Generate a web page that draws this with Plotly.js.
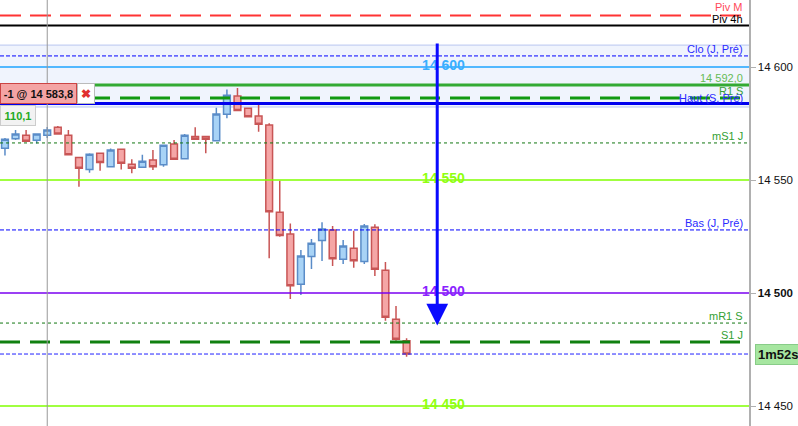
<!DOCTYPE html>
<html>
<head>
<meta charset="utf-8">
<script src="https://cdn.plot.ly/plotly-3.0.1.min.js"></script>
<style>
html,body{margin:0;padding:0;background:#fff;}
#chart{width:798px;height:426px;}
</style>
</head>
<body>
<div id="chart"></div>
<script>
// ---- data ----
const candleIndex = [0,1,2,3,4,5,6,7,8,9,10,11,12,13,14,15,16,17,18,19,20,21,22,23,24,25,26,27,28,29,30,31,32,33,34,35,36,37,38];
const openPrices  = [14564.0,14568.3,14569.8,14567.6,14569.8,14573.3,14569.8,14560.0,14554.7,14561.8,14555.9,14563.6,14557.0,14555.6,14558.9,14556.8,14565.9,14559.4,14569.3,14569.3,14567.4,14579.1,14587.2,14581.7,14578.3,14574.3,14535.7,14526.1,14503.9,14516.1,14523.2,14527.9,14514.9,14519.8,14513.9,14529.1,14510.1,14488.4,14478.9];
const highPrices  = [14568.6,14572.1,14572.1,14570.4,14573.5,14573.9,14572.1,14560.0,14561.8,14561.8,14563.9,14563.9,14559.2,14561.2,14563.3,14565.4,14567.7,14570.4,14573.3,14569.5,14582.0,14590.1,14590.7,14581.7,14583.2,14575.1,14549.7,14530.8,14519.0,14523.9,14531.3,14529.7,14523.5,14527.6,14530.5,14530.4,14513.7,14494.2,14480.0];
const lowPrices   = [14560.8,14567.7,14567.1,14566.2,14568.6,14570.4,14560.8,14547.0,14553.2,14554.1,14555.9,14554.7,14553.0,14555.6,14554.4,14555.9,14559.2,14559.4,14568.0,14561.8,14567.4,14577.3,14580.7,14578.0,14571.4,14515.4,14524.9,14497.3,14499.1,14510.6,14514.2,14512.0,14512.8,14511.2,14512.8,14507.5,14487.7,14478.9,14471.8];
const closePrices = [14568.0,14570.4,14567.1,14570.4,14572.1,14570.4,14561.2,14555.2,14561.4,14557.8,14563.3,14557.4,14555.2,14558.3,14555.9,14565.4,14559.2,14569.8,14568.0,14568.0,14579.2,14587.5,14580.7,14578.0,14574.7,14536.0,14525.4,14503.2,14516.4,14522.0,14528.3,14515.2,14520.8,14514.3,14529.7,14510.5,14489.3,14479.5,14473.0];

// labelled levels (right side)
const levelNames  = ["Piv M","Piv 4h","Clo (J, Pré)","14 592,0","R1 S","Haut (S, Pré)","mS1 J","Bas (J, Pré)","mR1 S","S1 J"];
const levelPrices = [14622.8,14618.4,14604.9,14592.0,14586.3,14583.8,14566.4,14527.9,14486.7,14478.3];

// round-number levels (centre labels)
const roundNames  = ["14 600","14 550","14 500","14 450"];
const roundPrices = [14600,14550,14500,14450];

// shaded band of previous day
const bandPrices = [14582.3,14609.7];

// axis ticks
const tickValues = [14600,14550,14500,14450];
const tickLabels = ["14 600","14 550","<b>14 500</b>","14 450"];

// position / info
const positionText = ["-1 @ 14 583,8"];
const positionPrice = [14583.8];
const pnlText = ["110,1"];
const lastPrice = [14473.0];
const timerText = ["1m52s"];
const crosshairIndex = [4];
const arrowIndex = [40.9];
const arrowFromTo = [14611.1, 14485.6];

// ---- styles ----
const levelStyle = {
  "Piv M":        {color:"#ff3333", width:2,   dash:"21px,9px", text:"#ff4a5a", shift:1},
  "Piv 4h":       {color:"#000000", width:2,   dash:"solid",    text:"#000000", shift:-1},
  "Clo (J, Pré)": {color:"#0000ff", width:1,   dash:"4px,2px",  text:"#2a2aff", shift:0},
  "14 592,0":     {color:"#33aa33", width:3,   dash:"solid",    text:"#66bb55", shift:0},
  "R1 S":         {color:"#119911", width:3,   dash:"20px,10px",text:"#3aa03a", shift:0},
  "Haut (S, Pré)":{color:"#0000ee", width:3,   dash:"solid",    text:"#2a2aff", shift:-1},
  "mS1 J":        {color:"#117711", width:1,   dash:"3px,3px",  text:"#33a033", shift:0},
  "Bas (J, Pré)": {color:"#0000ff", width:1,   dash:"4px,2px",  text:"#2a2aff", shift:0},
  "mR1 S":        {color:"#117711", width:1,   dash:"3px,3px",  text:"#33a033", shift:0},
  "S1 J":         {color:"#108010", width:3,   dash:"20px,10px",text:"#33a033", shift:0}
};
const roundStyle = {
  "14 600": {line:"#1ea5ff", text:"#3aaeff", width:1.5},
  "14 550": {line:"#80ff00", text:"#90ff10", width:1.5},
  "14 500": {line:"#7a00f0", text:"#8a22ff", width:1.5},
  "14 450": {line:"#80ff00", text:"#90ff10", width:1.5}
};
const FONT = "Liberation Sans, Arial, sans-serif";

const shapes = [];
const annotations = [];

// band
shapes.push({type:"rect", xref:"paper", yref:"y", x0:0, x1:1, y0:bandPrices[0], y1:bandPrices[1],
  fillcolor:"#f0f4fd", line:{width:0}, layer:"below"});
bandPrices.forEach(p => shapes.push({type:"line", xref:"paper", yref:"y", x0:0, x1:1, y0:p, y1:p,
  line:{color:"#b8c6f0", width:1}, layer:"below"}));

// round lines
roundNames.forEach((n,i) => {
  const s = roundStyle[n];
  shapes.push({type:"line", xref:"paper", yref:"y", x0:0, x1:1, y0:roundPrices[i], y1:roundPrices[i],
    line:{color:s.line, width:s.width}, layer:"above"});
  annotations.push({xref:"paper", yref:"y", x:0.592, y:roundPrices[i], text:"<b>"+n+"</b>", showarrow:false,
    xanchor:"center", yanchor:"middle", yshift:2, font:{family:FONT, size:14, color:s.text}});
});

// labelled levels
levelNames.forEach((n,i) => {
  const s = levelStyle[n];
  shapes.push({type:"line", xref:"paper", yref:"y", x0:0, x1:1, y0:levelPrices[i], y1:levelPrices[i],
    line:{color:s.color, width:s.width, dash:s.dash}, layer:"above"});
});
levelNames.forEach((n,i) => {
  const s = levelStyle[n];
  annotations.push({xref:"paper", yref:"y", x:0.993, y:levelPrices[i], text:n, showarrow:false,
    xanchor:"right", yanchor:"bottom", yshift:s.shift, borderpad:0, font:{family:FONT, size:11, color:s.text}});
});

// last price line
shapes.push({type:"line", xref:"paper", yref:"y", x0:0, x1:1, y0:lastPrice[0], y1:lastPrice[0],
  line:{color:"#2020ff", width:1, dash:"4px,2px"}, layer:"above"});

// crosshair
shapes.push({type:"line", xref:"x", yref:"paper", x0:crosshairIndex[0], x1:crosshairIndex[0], y0:0, y1:1,
  line:{color:"#999999", width:1}, layer:"above"});

// arrow
annotations.push({xref:"x", yref:"y", axref:"x", ayref:"y", x:arrowIndex[0], y:arrowFromTo[1],
  ax:arrowIndex[0], ay:arrowFromTo[0], text:"", showarrow:true, arrowhead:2, arrowsize:1.45,
  arrowwidth:3, arrowcolor:"#0a0aff", standoff:0, startstandoff:0});

// position box
annotations.push({xref:"paper", yref:"y", x:0, y:positionPrice[0], xanchor:"left", yanchor:"bottom",
  text:"<b>"+positionText[0]+"</b>", showarrow:false, bgcolor:"#f4a4a4", bordercolor:"#cc4444", borderwidth:1,
  borderpad:2, width:71, height:15, font:{family:FONT, size:11, color:"#111"}});
annotations.push({xref:"paper", yref:"y", x:0, y:positionPrice[0], xanchor:"left", yanchor:"bottom", xshift:77,
  text:"<b>✖</b>", showarrow:false, bgcolor:"#ffffff", bordercolor:"#bbbbbb", borderwidth:1,
  borderpad:2, width:12, height:15, font:{family:FONT, size:12, color:"#e03030"}});
annotations.push({xref:"paper", yref:"y", x:0, y:positionPrice[0], xanchor:"left", yanchor:"top", yshift:-1,
  text:"<b>"+pnlText[0]+"</b>", showarrow:false, bgcolor:"#f2f2f2", bordercolor:"#cccccc", borderwidth:1,
  borderpad:2, width:30, height:15, font:{family:FONT, size:11, color:"#22aa22"}});

// timer
annotations.push({xref:"paper", yref:"y", x:1, y:lastPrice[0], xanchor:"left", yanchor:"middle", xshift:6,
  text:"<b>"+timerText[0]+"</b>", showarrow:false, bgcolor:"#a6e6a0", bordercolor:"#88cc88", borderwidth:1,
  borderpad:2, font:{family:FONT, size:13, color:"#111"}});

const trace = {
  type:"candlestick", x:candleIndex, open:openPrices, high:highPrices, low:lowPrices, close:closePrices,
  increasing:{line:{color:"#5a8cc8", width:1.5}, fillcolor:"#a8d3f6"},
  decreasing:{line:{color:"#c85555", width:1.5}, fillcolor:"#f5a6a6"},
  whiskerwidth:0, hoverinfo:"skip"
};

const layout = {
  width:798, height:426,
  margin:{l:0, r:49, t:0, b:0, pad:0},
  paper_bgcolor:"#ffffff", plot_bgcolor:"#ffffff",
  showlegend:false, hovermode:false,
  boxgap:0.2, boxgroupgap:0.2,
  xaxis:{range:[-0.47, 70.4], visible:false, rangeslider:{visible:false}, fixedrange:true},
  yaxis:{range:[14441.15, 14629.65], side:"right", showgrid:false, zeroline:false,
    showline:true, linecolor:"#b0b0b0", linewidth:1.5, ticks:"outside", ticklen:5, tickcolor:"#b0b0b0",
    tickvals:tickValues, ticktext:tickLabels, tickfont:{family:FONT, size:11.5, color:"#111"}, fixedrange:true},
  shapes:shapes, annotations:annotations
};

Plotly.newPlot("chart", [trace], layout, {displayModeBar:false, staticPlot:true});
</script>
</body>
</html>
